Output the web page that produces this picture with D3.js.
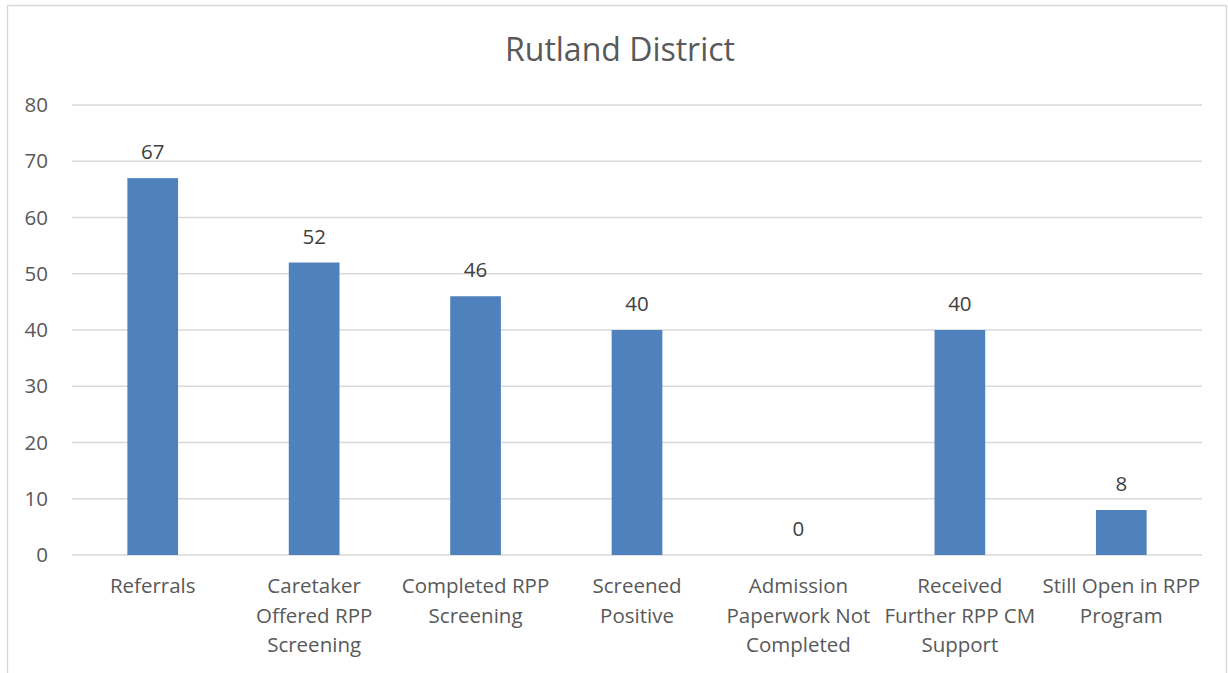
<!DOCTYPE html>
<html>
<head>
<meta charset="utf-8">
<script src="https://cdn.jsdelivr.net/npm/d3@7"></script>
<style>
  body { margin: 0; background: #fff; }
  text { font-family: "Open Sans", sans-serif; }
</style>
</head>
<body>
<script>
// Data
const categories = [
  ["Referrals"],
  ["Caretaker", "Offered RPP", "Screening"],
  ["Completed RPP", "Screening"],
  ["Screened", "Positive"],
  ["Admission", "Paperwork Not", "Completed"],
  ["Received", "Further RPP CM", "Support"],
  ["Still Open in RPP", "Program"]
];
const values = [67, 52, 46, 40, 0, 40, 8];
const yTicks = [0, 10, 20, 30, 40, 50, 60, 70, 80];
const title = "Rutland District";

const width = 1228, height = 673;
const margin = {left: 72, right: 26, top: 105, bottom: 118};

const svg = d3.select("body").append("svg")
  .attr("width", width)
  .attr("height", height);

// chart frame
svg.append("rect")
  .attr("x", 7.5).attr("y", 5.5)
  .attr("width", 1219).attr("height", 720)
  .attr("fill", "#fff")
  .attr("stroke", "#d9d9d9")
  .attr("stroke-width", 1.5);

const x = d3.scaleBand()
  .domain(d3.range(categories.length))
  .range([margin.left, width - margin.right])
  .padding(0);

const y = d3.scaleLinear()
  .domain([0, 80])
  .range([height - margin.bottom, margin.top]);

// gridlines
svg.append("g")
  .selectAll("line")
  .data(yTicks)
  .join("line")
  .attr("x1", margin.left)
  .attr("x2", width - margin.right)
  .attr("y1", d => y(d))
  .attr("y2", d => y(d))
  .attr("stroke", "#d9d9d9")
  .attr("stroke-width", 1.5);

// y labels
svg.append("g")
  .selectAll("text")
  .data(yTicks)
  .join("text")
  .attr("x", 48)
  .attr("y", d => y(d))
  .attr("dy", "0.35em")
  .attr("text-anchor", "end")
  .attr("fill", "#595959")
  .style("font-size", "20.5px")
  .text(d => d);

// bars
const barW = x.bandwidth() * 0.314;
svg.append("g")
  .selectAll("rect")
  .data(values)
  .join("rect")
  .attr("x", (d, i) => x(i) + x.bandwidth() / 2 - barW / 2)
  .attr("y", d => y(d))
  .attr("width", barW)
  .attr("height", d => y(0) - y(d))
  .attr("fill", "#4f81bd");

// value labels
svg.append("g")
  .selectAll("text")
  .data(values)
  .join("text")
  .attr("x", (d, i) => x(i) + x.bandwidth() / 2)
  .attr("y", d => y(d) - 19)
  .attr("text-anchor", "middle")
  .attr("fill", "#404040")
  .style("font-size", "20.5px")
  .text(d => d);

// category labels
svg.append("g")
  .selectAll("text")
  .data(categories)
  .join("text")
  .attr("text-anchor", "middle")
  .attr("fill", "#595959")
  .style("font-size", "20.5px")
  .each(function(lines, i) {
    d3.select(this)
      .selectAll("tspan")
      .data(lines)
      .join("tspan")
      .attr("x", x(i) + x.bandwidth() / 2)
      .attr("y", (d, j) => 593 + j * 29.5)
      .text(d => d);
  });

// title
svg.append("text")
  .attr("x", 620)
  .attr("y", 61)
  .attr("text-anchor", "middle")
  .attr("fill", "#595959")
  .style("font-size", "32px")
  .text(title);
</script>
</body>
</html>
